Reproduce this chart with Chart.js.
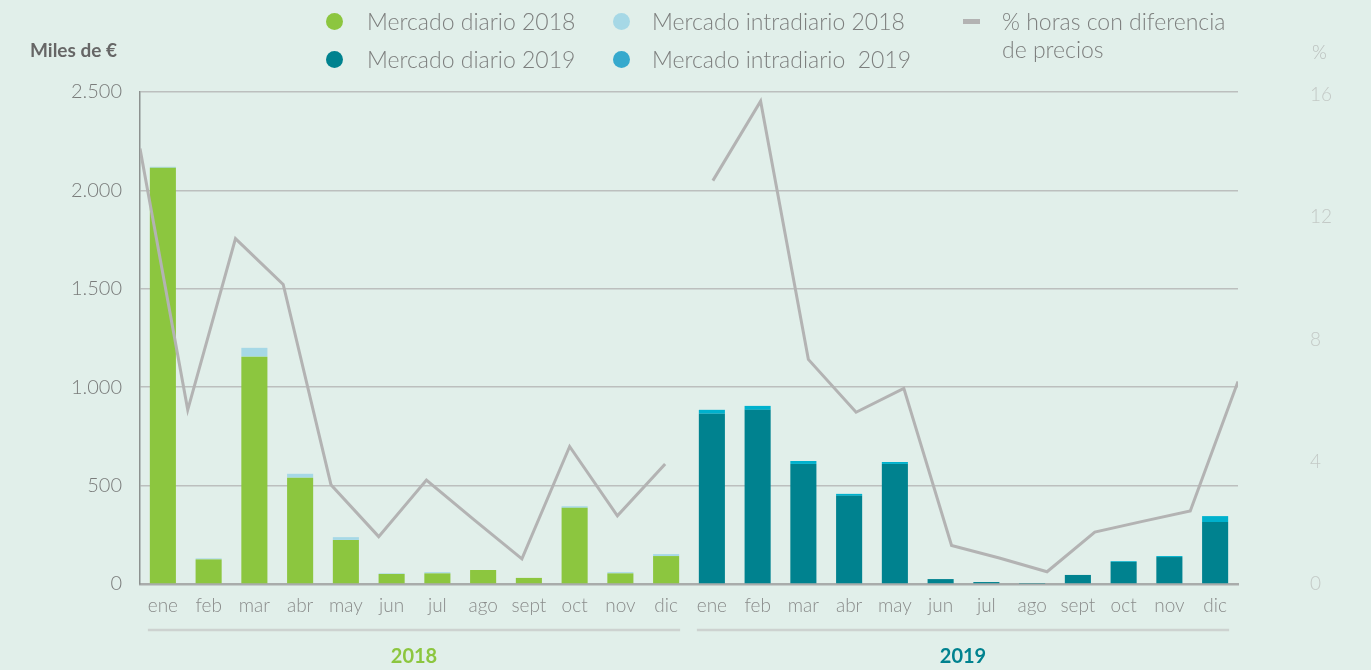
<!DOCTYPE html>
<html lang="es">
<head>
<meta charset="utf-8">
<title>Mercado diario e intradiario</title>
<script src="https://cdn.jsdelivr.net/npm/chart.js@4"></script>
<style>
  html, body { margin: 0; padding: 0; background: #e1efea; }
  body { font-family: 'Lato', sans-serif; }
  #wrap { position: relative; width: 1371px; height: 670px; }
  #chart { position: absolute; left: 0; top: 0; }
  .legend-item { position: absolute; font-size: 23px; font-weight: 300; color: #7d7f7e; line-height: 28px; white-space: nowrap; }
  .dot { position: absolute; width: 17px; height: 17px; border-radius: 50%; }
  .dash { position: absolute; width: 17px; height: 5px; background: #b3b3b3; }
  .axis-title { position: absolute; font-size: 19px; }
</style>
</head>
<body>
<div id="wrap">
  <canvas id="chart" width="1371" height="670"></canvas>

  <div class="axis-title" style="left:30px; top:38px; font-weight:700; color:#666;">Miles de €</div>
  <div class="axis-title" style="left:1312px; top:40px; font-weight:300; color:#b9bebc;">%</div>

  <div class="dot" style="left:326px; top:13px; background:#8cc63f;"></div>
  <div class="legend-item" style="left:367px; top:7px;">Mercado diario 2018</div>
  <div class="dot" style="left:326px; top:51px; background:#00828f;"></div>
  <div class="legend-item" style="left:367px; top:45px;">Mercado diario 2019</div>

  <div class="dot" style="left:613px; top:13px; background:#a6d8e6;"></div>
  <div class="legend-item" style="left:652px; top:7px;">Mercado intradiario 2018</div>
  <div class="dot" style="left:613px; top:51px; background:#36a9cd;"></div>
  <div class="legend-item" style="left:652px; top:45px;">Mercado intradiario&nbsp; 2019</div>

  <div class="dash" style="left:963px; top:19px;"></div>
  <div class="legend-item" style="left:1002px; top:7px;">% horas con diferencia<br>de precios</div>
</div>

<script>
// meses (se repiten para 2018 y 2019)
const meses = ['ene', 'feb', 'mar', 'abr', 'may', 'jun', 'jul', 'ago', 'sept', 'oct', 'nov', 'dic'];

// miles de €
const diario2018 = [2115, 125, 1155, 540, 224, 51, 54, 71, 31, 387, 54, 142];
const intradiario2018 = [5, 5, 45, 20, 14, 3, 6, 0, 0, 8, 6, 10];
const diario2019 = [865, 885, 610, 448, 610, 25, 10, 2, 46, 112, 137, 315];
const intradiario2019 = [20, 20, 15, 10, 10, 0, 0, 0, 0, 4, 5, 30];

// % horas con diferencia de precios
const horas2018 = [14.25, 5.7, 11.3, 9.8, 3.25, 1.55, 3.4, 2.1, 0.82, 4.5, 2.23, 3.93];
const horas2019 = [13.2, 15.8, 7.35, 5.62, 6.4, 1.26, 0.85, 0.4, 1.7, 2.05, 2.39, 6.63];

const yTicksLeft = [0, 500, 1000, 1500, 2000, 2500];
const yTicksRight = [0, 4, 8, 12, 16];

const labels = meses.concat(meses);
const vacio = meses.map(() => null);

const fmt = v => v.toLocaleString('de-DE');

// lineas y etiquetas de año debajo del eje
const yearPlugin = {
  id: 'years',
  afterDraw(chart) {
    const ctx = chart.ctx;
    const x = chart.scales.x;
    const grupos = [
      { from: 0, to: 11, text: '2018', color: '#8cc63f' },
      { from: 12, to: 23, text: '2019', color: '#00828f' }
    ];
    ctx.save();
    grupos.forEach(g => {
      const x0 = x.getPixelForTick(g.from) - 15;
      const x1 = x.getPixelForTick(g.to) + 14;
      ctx.strokeStyle = '#cdd2d0';
      ctx.lineWidth = 2.5;
      ctx.beginPath();
      ctx.moveTo(x0, 630);
      ctx.lineTo(x1, 630);
      ctx.stroke();
      ctx.fillStyle = g.color;
      ctx.font = 'bold 20px Lato';
      ctx.textAlign = 'center';
      ctx.textBaseline = 'middle';
      ctx.fillText(g.text, (x0 + x1) / 2, 657);
    });
    ctx.restore();
  }
};

new Chart(document.getElementById('chart'), {
  data: {
    labels: labels,
    datasets: [
      {
        type: 'line',
        data: horas2018.map((v, i) => ({ x: i, y: v })),
        xAxisID: 'xLine',
        yAxisID: 'y1',
        borderColor: '#b3b3b3',
        borderWidth: 3,
        pointRadius: 0,
        tension: 0,
        order: 0
      },
      {
        type: 'line',
        data: horas2019.map((v, i) => ({ x: 12 + i, y: v })),
        xAxisID: 'xLine',
        yAxisID: 'y1',
        borderColor: '#b3b3b3',
        borderWidth: 3,
        pointRadius: 0,
        tension: 0,
        order: 0
      },
      {
        type: 'bar',
        label: 'Mercado diario 2018',
        data: diario2018.concat(vacio),
        backgroundColor: '#8cc63f',
        order: 1
      },
      {
        type: 'bar',
        label: 'Mercado intradiario 2018',
        data: intradiario2018.concat(vacio),
        backgroundColor: '#a6d8e6',
        order: 1
      },
      {
        type: 'bar',
        label: 'Mercado diario 2019',
        data: vacio.concat(diario2019),
        backgroundColor: '#00828f',
        order: 1
      },
      {
        type: 'bar',
        label: 'Mercado intradiario 2019',
        data: vacio.concat(intradiario2019),
        backgroundColor: '#00b1cd',
        order: 1
      }
    ]
  },
  options: {
    responsive: false,
    animation: false,
    layout: { padding: { top: 92, left: 0, right: 0, bottom: 0 } },
    datasets: { bar: { barPercentage: 0.57, categoryPercentage: 1, grouped: false } },
    plugins: { legend: { display: false }, tooltip: { enabled: false } },
    scales: {
      x: {
        stacked: true,
        grid: { display: false, drawTicks: false },
        border: { color: '#a9acab', width: 2.5 },
        ticks: { color: '#8a8c8b', font: { family: 'Lato', size: 19, weight: 300 }, padding: 10, maxRotation: 0, autoSkip: false },
        afterFit: s => { s.height = 86; }
      },
      xLine: {
        type: 'linear',
        display: false,
        min: 0,
        max: 23
      },
      y: {
        stacked: true,
        position: 'left',
        min: 0,
        max: 2500,
        afterBuildTicks: s => { s.ticks = yTicksLeft.map(v => ({ value: v })); },
        grid: { color: '#bcbfbe', lineWidth: 1.5, drawTicks: false },
        border: { color: '#8c918f', width: 1.5 },
        ticks: { color: '#7a7c7b', font: { family: 'Lato', size: 20, weight: 300 }, padding: 18, callback: v => fmt(v) },
        afterFit: s => { s.width = 140; }
      },
      y1: {
        position: 'right',
        min: 0,
        max: 16.1,
        afterBuildTicks: s => { s.ticks = yTicksRight.map(v => ({ value: v })); },
        grid: { display: false, drawTicks: false },
        border: { display: false },
        ticks: { color: '#c3c9c6', font: { family: 'Lato', size: 19, weight: 300 }, padding: 72 },
        afterFit: s => { s.width = 133; }
      }
    }
  },
  plugins: [yearPlugin]
});
</script>
</body>
</html>
